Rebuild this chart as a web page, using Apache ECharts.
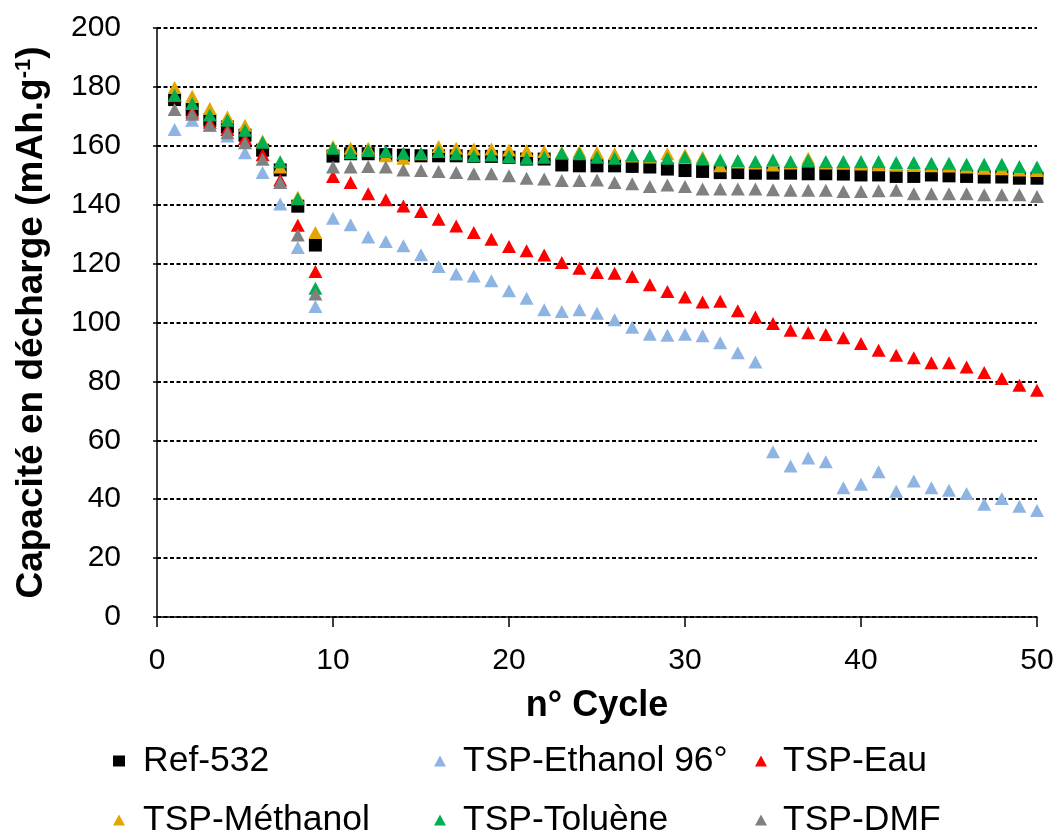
<!DOCTYPE html>
<html>
<head>
<meta charset="utf-8">
<script src="https://cdn.jsdelivr.net/npm/echarts@6/dist/echarts.min.js"></script>
<style>
  html, body { margin: 0; padding: 0; background: #fff; }
  #chart { width: 1059px; height: 834px; }
</style>
</head>
<body>
<div id="chart"></div>
<script>
// Discharge capacity (mAh/g) per cycle, cycles 1..50
const cycles = Array.from({ length: 50 }, (_, i) => i + 1);

const ref532 = [175.7, 172.3, 168.7, 166.4, 163.6, 158.5, 151.8, 139.5, 126.3, 156.5,
  157.3, 157.3, 157.0, 156.8, 156.6, 156.6, 156.6, 156.4, 156.4, 156.1,
  155.5, 155.5, 153.5, 153.2, 153.2, 153.2, 153.0, 152.8, 152.1, 151.6,
  151.3, 150.9, 150.9, 150.7, 150.7, 150.7, 150.5, 150.5, 150.4, 150.1,
  150.1, 149.6, 149.6, 150.1, 149.8, 149.6, 149.4, 149.4, 149.0, 149.0];

const ethanol96 = [165.5, 168.7, 167.0, 163.3, 157.6, 150.9, 140.2, 125.5, 105.4, 135.4,
  133.2, 129.0, 127.5, 126.1, 123.0, 119.0, 116.5, 115.8, 114.2, 110.8,
  108.2, 104.3, 103.7, 104.3, 103.1, 100.9, 98.4, 96.0, 95.7, 96.0,
  95.5, 93.1, 89.7, 86.6, 56.1, 51.3, 54.0, 52.7, 43.9, 45.1,
  49.3, 42.7, 46.2, 43.9, 43.0, 41.9, 38.3, 40.2, 37.6, 36.2];

const eau = [177.0, 171.5, 168.0, 165.5, 162.5, 157.0, 148.4, 133.0, 117.3, 149.6,
  147.5, 143.7, 141.7, 139.6, 137.7, 135.1, 132.8, 130.6, 128.3, 125.8,
  124.4, 122.9, 120.4, 118.4, 117.0, 116.7, 115.6, 112.8, 110.5, 108.7,
  107.0, 107.2, 104.0, 101.9, 99.7, 97.4, 96.5, 95.9, 94.8, 92.9,
  90.6, 88.9, 88.0, 86.3, 86.3, 84.9, 83.0, 81.0, 78.7, 77.0];

const methanol = [179.8, 176.8, 172.7, 169.8, 167.0, 161.6, 152.8, 142.5, 130.6, 159.8,
  159.2, 159.2, 156.6, 155.8, 157.3, 159.8, 159.2, 158.9, 158.9, 158.6,
  158.4, 158.1, 157.7, 158.1, 157.7, 157.3, 156.5, 156.2, 157.3, 156.9,
  156.1, 153.2, 154.5, 154.2, 153.5, 154.2, 155.8, 154.2, 154.1, 153.8,
  153.6, 153.4, 153.3, 153.2, 153.1, 152.8, 152.4, 152.2, 151.8, 151.6];

const toluene = [177.2, 174.4, 170.5, 168.7, 165.3, 161.2, 154.6, 142.0, 111.6, 159.2,
  157.7, 158.4, 158.1, 157.5, 157.5, 158.1, 157.3, 156.6, 156.9, 156.4,
  155.8, 156.1, 157.5, 157.3, 156.1, 155.8, 156.9, 156.6, 155.8, 156.1,
  155.5, 155.2, 155.0, 154.7, 155.2, 154.7, 155.0, 154.7, 154.7, 154.7,
  154.7, 154.3, 154.3, 154.1, 154.1, 153.7, 153.7, 153.7, 153.0, 152.8];

const dmf = [172.3, 170.7, 167.0, 164.4, 161.0, 155.4, 147.5, 129.7, 109.7, 152.8,
  152.8, 153.0, 152.8, 151.8, 151.6, 151.3, 150.9, 150.5, 150.5, 149.8,
  149.0, 148.7, 148.2, 148.2, 148.4, 147.5, 147.1, 146.2, 146.7, 146.2,
  145.3, 145.3, 145.3, 145.3, 145.1, 144.9, 144.9, 144.9, 144.5, 144.5,
  144.7, 144.9, 143.7, 143.7, 143.7, 143.7, 143.4, 143.4, 143.4, 142.8];

const seriesNames = ['Ref-532', 'TSP-Ethanol 96°', 'TSP-Eau', 'TSP-Méthanol', 'TSP-Toluène', 'TSP-DMF'];
const seriesValues = [ref532, ethanol96, eau, methanol, toluene, dmf];
const seriesColors = ['#000000', '#8EB4E3', '#FF0000', '#E3A600', '#00B050', '#808080'];
const seriesSymbols = ['rect', 'triangle', 'triangle', 'triangle', 'triangle', 'triangle'];

const FONT = "'Liberation Sans', Arial, sans-serif";

const chart = echarts.init(document.getElementById('chart'), null, { renderer: 'canvas' });

// Legend laid out in a 3 x 2 grid, one legend component per entry
const legendCols = [{ left: 113, pad: 13 }, { left: 434, pad: 12 }, { left: 755, pad: 11 }];
const legendRows = [741, 800];
const legends = seriesNames.map((name, i) => {
  const col = legendCols[i % 3];
  return {
    data: [name],
    left: col.left,
    top: legendRows[Math.floor(i / 3)],
    icon: seriesSymbols[i],
    itemWidth: 12,
    itemHeight: 11,
    selectedMode: false,
    padding: 0,
    itemStyle: { opacity: 1 },
    textStyle: {
      fontFamily: FONT,
      fontSize: 35.5,
      color: '#000',
      lineHeight: 40,
      padding: [0, 0, 0, col.pad]
    }
  };
});

const series = seriesNames.map((name, i) => ({
  name: name,
  type: 'scatter',
  symbol: seriesSymbols[i],
  symbolSize: seriesSymbols[i] === 'rect' ? [13, 13] : [14, 13],
  itemStyle: { color: seriesColors[i], opacity: 1 },
  data: cycles.map((c, k) => [c, seriesValues[i][k]]),
  z: 2 + i,
  emphasis: { disabled: true }
}));

chart.setOption({
  animation: false,
  backgroundColor: '#fff',
  grid: { left: 157, right: 22, top: 28, bottom: 217, containLabel: false },
  legend: legends,
  xAxis: {
    type: 'value',
    min: 0,
    max: 50,
    interval: 10,
    name: 'n° Cycle',
    nameLocation: 'middle',
    nameGap: 71,
    nameTextStyle: { fontFamily: FONT, fontSize: 36, fontWeight: 'bold', color: '#000' },
    axisLine: { show: true, onZero: false, lineStyle: { color: '#000', width: 1.5 } },
    axisTick: { show: true, inside: false, length: 10, lineStyle: { color: '#000', width: 1.5 } },
    axisLabel: { fontFamily: FONT, fontSize: 30, color: '#000', margin: 29 },
    splitLine: { show: false }
  },
  yAxis: {
    type: 'value',
    min: 0,
    max: 200,
    interval: 20,
    name: 'Capacité en décharge (mAh.g{sup|-1})',
    nameLocation: 'middle',
    nameRotate: 90,
    nameGap: 107,
    nameTextStyle: {
      fontFamily: FONT, fontSize: 37, fontWeight: 'bold', color: '#000',
      rich: {
        sup: { fontFamily: FONT, fontSize: 22, fontWeight: 'bold', color: '#000', verticalAlign: 'top' }
      }
    },
    axisLine: { show: true, lineStyle: { color: '#000', width: 1.5 } },
    axisTick: { show: true, inside: false, length: 4, lineStyle: { color: '#000', width: 1.5 } },
    axisLabel: { fontFamily: FONT, fontSize: 30, color: '#000', margin: 36 },
    splitLine: { show: true, lineStyle: { color: '#000', width: 2, type: [4, 2.5] } }
  },
  series: series
});
</script>
</body>
</html>
